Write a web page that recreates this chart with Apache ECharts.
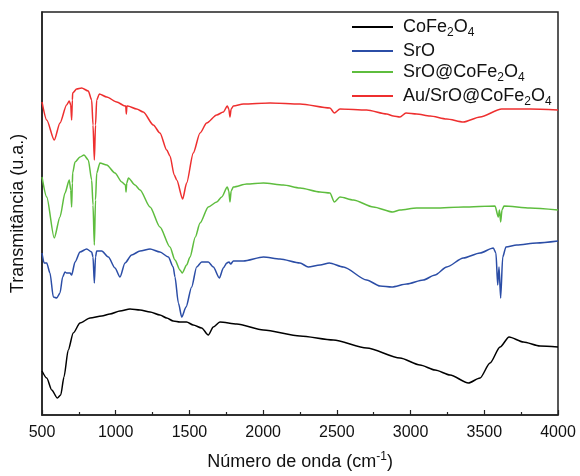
<!DOCTYPE html>
<html>
<head>
<meta charset="utf-8">
<script src="https://cdn.jsdelivr.net/npm/echarts@6/dist/echarts.min.js"></script>
<style>
  html, body { margin: 0; padding: 0; background: #fff; }
  #chart { width: 580px; height: 476px; }
</style>
</head>
<body>
<div id="chart"></div>
<script>
// wavenumber (cm-1), transmittance (arbitrary units, curves offset vertically)
const cofe2o4 = [
  [500, 44], [532, 37], [566, 25], [604, 17], [627, 20], [649, 38], [678, 65], [712, 82],
  [758, 92], [826, 97], [905, 99], [961, 101], [1029, 104], [1097, 106], [1165, 105],
  [1233, 103], [1300, 100], [1346, 97], [1390, 94], [1436, 93], [1481, 93], [1526, 90],
  [1583, 87], [1628, 80], [1662, 88], [1707, 93], [1821, 91], [2002, 85], [2250, 79],
  [2476, 75], [2702, 67], [2928, 57], [3064, 50], [3166, 45], [3268, 40], [3392, 32],
  [3471, 37], [3539, 52], [3607, 68], [3668, 78], [3765, 73], [3878, 69], [4000, 68]
];

const sro = [
  [500, 162], [514, 152], [532, 152], [554, 142], [577, 118], [600, 117], [622, 122],
  [640, 138], [656, 143], [667, 142], [690, 142], [701, 140], [724, 153], [758, 163],
  [803, 166], [837, 163], [846, 158], [855, 132], [863, 158], [871, 164], [905, 164],
  [950, 158], [995, 147], [1029, 138], [1063, 152], [1108, 160], [1165, 164], [1233, 166],
  [1300, 163], [1357, 158], [1390, 148], [1402, 138], [1425, 112], [1448, 98], [1477, 108],
  [1515, 128], [1549, 148], [1583, 153], [1628, 153], [1662, 148], [1703, 137], [1730, 147],
  [1753, 152], [1768, 153], [1780, 151], [1798, 154], [1866, 154], [2002, 158], [2114, 156],
  [2250, 152], [2306, 148], [2386, 150], [2449, 152], [2544, 148], [2702, 135], [2793, 129],
  [2872, 128], [2974, 131], [3086, 135], [3166, 140], [3245, 148], [3358, 157], [3471, 162],
  [3561, 167], [3579, 162], [3591, 130], [3600, 148], [3611, 117], [3625, 158], [3647, 168],
  [3720, 170], [3855, 172], [4000, 174]
];

const sroCofe2o4 = [
  [500, 238], [532, 218], [583, 177], [622, 198], [656, 222], [685, 235], [695, 225],
  [701, 208], [706, 232], [708, 242], [724, 253], [758, 258], [785, 260], [814, 255],
  [837, 235], [846, 210], [855, 170], [863, 215], [871, 242], [893, 252], [939, 250],
  [995, 242], [1041, 233], [1066, 230], [1070, 223], [1075, 232], [1086, 237], [1131, 230],
  [1165, 225], [1233, 208], [1300, 188], [1368, 168], [1402, 155], [1436, 145], [1451, 142],
  [1481, 150], [1504, 158], [1540, 178], [1572, 192], [1628, 208], [1685, 213], [1719, 218],
  [1757, 228], [1767, 224], [1775, 213], [1783, 224], [1798, 228], [1889, 231], [2002, 232],
  [2137, 230], [2250, 227], [2386, 223], [2453, 222], [2483, 213], [2521, 218], [2612, 215],
  [2747, 208], [2879, 203], [2928, 205], [3041, 207], [3166, 207], [3358, 208], [3573, 209],
  [3595, 198], [3603, 205], [3611, 193], [3620, 205], [3634, 209], [3810, 207], [4000, 205]
];

const auSroCofe2o4 = [
  [500, 313], [532, 295], [583, 275], [622, 292], [667, 310], [685, 314], [695, 310],
  [701, 295], [706, 315], [708, 322], [735, 326], [769, 327], [814, 324], [837, 315],
  [846, 290], [855, 255], [863, 290], [871, 315], [889, 321], [939, 318], [1007, 313],
  [1063, 309], [1068, 309], [1072, 301], [1076, 309], [1081, 309], [1142, 306], [1187, 303],
  [1255, 290], [1300, 282], [1346, 265], [1368, 259], [1397, 240], [1414, 235], [1454, 216],
  [1481, 232], [1526, 262], [1572, 282], [1617, 292], [1685, 300], [1730, 303], [1757, 309],
  [1767, 306], [1775, 298], [1783, 306], [1798, 309], [1866, 311], [2047, 312], [2250, 311],
  [2453, 307], [2483, 302], [2521, 306], [2702, 305], [2838, 301], [2883, 299], [2928, 298],
  [2969, 302], [3041, 301], [3132, 299], [3245, 296], [3358, 293], [3471, 298], [3618, 306],
  [3810, 306], [4000, 305]
];

const seriesNames = ['CoFe2O4', 'SrO', 'SrO@CoFe2O4', 'Au/SrO@CoFe2O4'];
const seriesColors = ['#000000', '#2B4DA6', '#5EBD3E', '#EE2F2F'];
const seriesData = [cofe2o4, sro, sroCofe2o4, auSroCofe2o4];
const xTicks = [500, 1000, 1500, 2000, 2500, 3000, 3500, 4000];

const FONT = 'Liberation Sans, Arial, sans-serif';

function fnSub(name) {
  // turn the digits of a formula into subscripts
  return name.replace(/([A-Za-z@\/]+)|(\d+)/g, (m, a, d) => a ? '{n|' + a + '}' : '{s|' + d + '}');
}

function fnSeries(data, name, color) {
  return {
    name: name,
    type: 'line',
    data: data,
    symbol: 'none',
    smooth: 0.25,
    smoothMonotone: 'x',
    lineStyle: { color: color, width: 1.5 },
    itemStyle: { color: color },
    animation: false
  };
}

const chart = echarts.init(document.getElementById('chart'), null, { renderer: 'canvas' });

const option = {
  backgroundColor: '#fff',
  animation: false,
  grid: {
    left: 42, right: 22, top: 12, bottom: 61,
    outerBoundsMode: 'none',
    show: true, borderColor: '#222', borderWidth: 1.5, backgroundColor: 'transparent'
  },
  legend: {
    orient: 'vertical',
    left: 347,
    top: 13,
    icon: 'rect',
    itemWidth: 41,
    itemHeight: 2,
    itemGap: 3,
    formatter: fnSub,
    textStyle: {
      fontFamily: FONT,
      color: '#111',
      padding: [0, 0, 0, 5],
      rich: {
        n: { fontFamily: FONT, fontSize: 18, lineHeight: 20, color: '#111' },
        s: { fontFamily: FONT, fontSize: 12, lineHeight: 12, verticalAlign: 'bottom', color: '#111', padding: [0, 0, -2, 0] }
      }
    },
    data: seriesNames
  },
  xAxis: {
    type: 'value',
    min: 500,
    max: 4000,
    interval: 500,
    name: '{n|Número de onda (cm}{p|-1}{n|)}',
    nameLocation: 'middle',
    nameGap: 36,
    nameTextStyle: {
      rich: {
        n: { fontFamily: FONT, fontSize: 18, lineHeight: 22, color: '#111' },
        p: { fontFamily: FONT, fontSize: 12, lineHeight: 12, verticalAlign: 'top', color: '#111' }
      }
    },
    axisLine: { show: true, lineStyle: { color: '#222', width: 1.5 } },
    axisTick: { show: true, inside: true, length: 5, lineStyle: { color: '#222', width: 1.2 } },
    minorTick: { show: true, splitNumber: 2, length: 3, lineStyle: { color: '#222', width: 1.2 } },
    splitLine: { show: false },
    axisLabel: {
      fontFamily: FONT, fontSize: 16, color: '#111', margin: 10,
      formatter: v => xTicks.indexOf(v) >= 0 ? String(v) : ''
    }
  },
  yAxis: {
    type: 'value',
    min: 0,
    max: 403,
    name: 'Transmitância (u.a.)',
    nameLocation: 'middle',
    nameGap: 15,
    nameTextStyle: { fontFamily: FONT, fontSize: 18, color: '#111' },
    axisLine: { show: true, lineStyle: { color: '#222', width: 1.5 } },
    axisTick: { show: false },
    axisLabel: { show: false },
    splitLine: { show: false }
  },
  series: seriesData.map((d, i) => fnSeries(d, seriesNames[i], seriesColors[i]))
};

chart.setOption(option);
</script>
</body>
</html>
